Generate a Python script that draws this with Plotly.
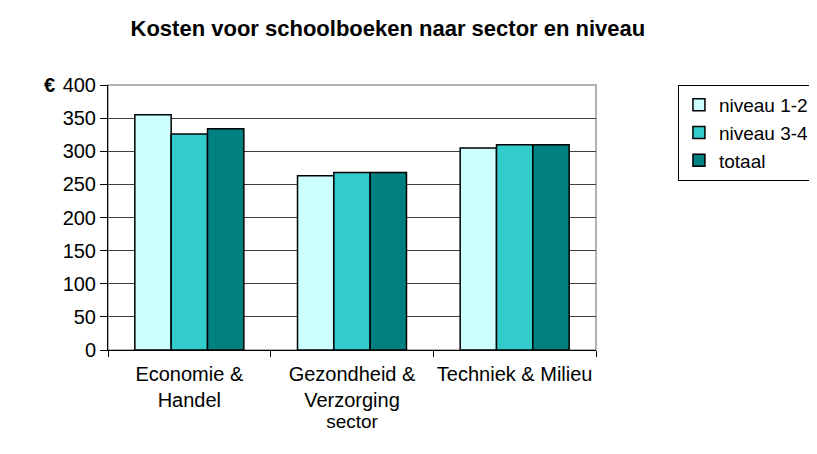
import plotly.graph_objects as go

categories = ["Economie &<br>Handel", "Gezondheid &<br>Verzorging", "Techniek & Milieu"]
niveau_12 = [355, 263, 305]
niveau_34 = [326, 268, 310]
totaal = [334, 268, 310]
series_names = ["niveau 1-2", "niveau 3-4", "totaal"]
colors = ["#CCFFFF", "#33CCCC", "#008080"]

fig = go.Figure()
for name, vals, col in zip(series_names, [niveau_12, niveau_34, totaal], colors):
    fig.add_trace(go.Bar(x=categories, y=vals, name=name, legendgroup=name,
                         marker=dict(color=col, line=dict(color="black", width=1.5))))

fig.update_layout(
    width=817, height=454,
    margin=dict(l=100, r=229, t=77, b=112, autoexpand=False),
    paper_bgcolor="white", plot_bgcolor="white",
    font=dict(family="Arial, Liberation Sans, sans-serif", size=19, color="black"),
    title=dict(text="<b>Kosten voor schoolboeken naar sector en niveau</b>",
               x=0.465, xanchor="center", y=0.956, yanchor="middle",
               font=dict(size=22)),
    barmode="group", bargap=0.33, bargroupgap=0,
    legend=dict(xref="container", yref="container", x=0.82, xanchor="left",
                y=1 - 77 / 454, yanchor="top",
                bordercolor="black", borderwidth=1, bgcolor="white",
                font=dict(size=19), traceorder="grouped", tracegroupgap=0,
                itemwidth=30),
    xaxis=dict(showline=True, linecolor="black", linewidth=1, automargin=False,
               ticks="outside", tickson="boundaries", ticklen=6, tickcolor="black",
               tickangle=0, ticklabelstandoff=6,
               title=dict(text="sector", standoff=3, font=dict(size=19)),
               tickfont=dict(size=20)),
    yaxis=dict(range=[0, 400], dtick=50, showline=True, linecolor="black", linewidth=1,
               automargin=False,
               ticks="outside", ticklen=7, tickcolor="black",
               showgrid=True, gridcolor="#404040", gridwidth=1,
               tickfont=dict(size=20), zeroline=False),
    annotations=[dict(text="<b>€</b>", xref="paper", yref="paper", x=-0.119, y=1.0,
                      xanchor="center", yanchor="middle", showarrow=False,
                      font=dict(size=20))],
    shapes=[dict(type="rect", xref="paper", yref="paper", x0=0, x1=1, y0=0, y1=1,
                 line=dict(color="#999999", width=1.5), layer="below")],
)

fig.write_html("out.html")
